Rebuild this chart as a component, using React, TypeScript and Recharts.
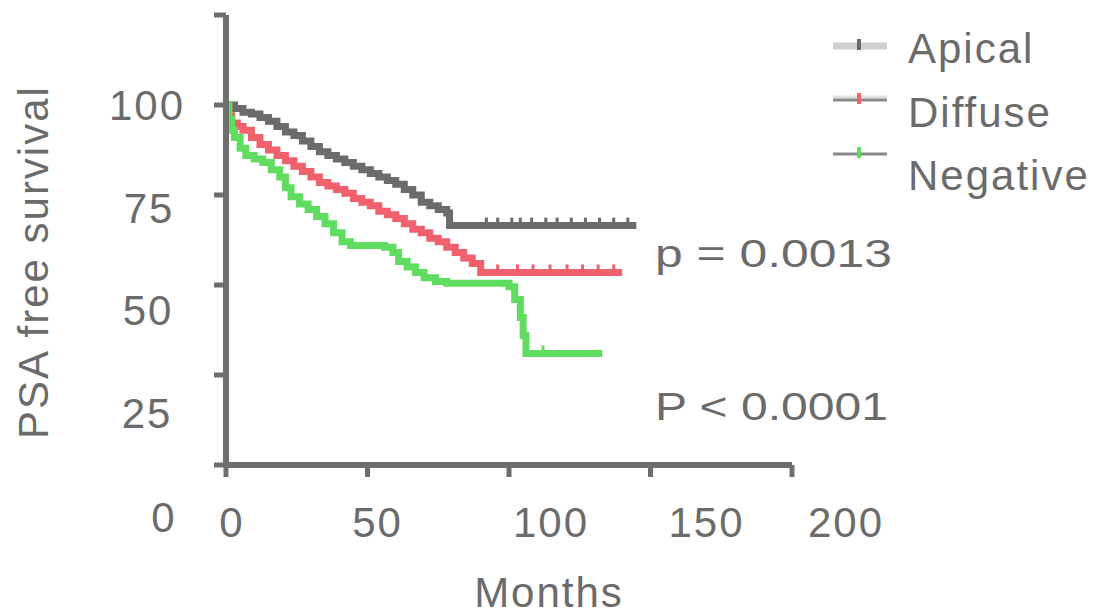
import React from 'react';
import { ComposedChart, Line, Scatter, XAxis, YAxis, Legend, Label, Customized } from 'recharts';

const FONT = '"Liberation Sans", Arial, Helvetica, sans-serif';
const TEXT = '#6b6b6b';
const AXIS = '#6e6e6e';

const xTicks = [0, 50, 100, 150, 200];
const yTicks = [0, 25, 50, 75, 100, 125];

// Kaplan-Meier steps (months, % PSA free)
const apicalMonths = [0, 3, 6, 9, 12, 15, 18, 21, 24, 27, 30, 33, 36, 39, 42, 45, 48, 51, 54, 57, 60, 63, 66, 69, 72, 75, 78, 79, 145];
const apicalSurvival = [100, 99, 98, 97.5, 96.5, 95.5, 94, 92.5, 91.5, 90, 88.5, 87, 86, 85, 84, 83, 82, 81, 80, 79, 78, 76.5, 75, 73, 72, 71, 70, 66.5, 66.5];
const apicalCensorMonths = [92, 96, 101, 104, 108, 113, 117, 122, 127, 132, 137, 142];

const diffuseMonths = [0, 1, 2, 4, 6, 9, 12, 15, 18, 21, 24, 27, 30, 33, 36, 39, 42, 45, 48, 51, 54, 57, 60, 63, 66, 69, 72, 75, 78, 81, 84, 87, 90, 140];
const diffuseSurvival = [100, 97, 95, 94, 93, 91, 89, 87.5, 86, 84.5, 83, 81.5, 80, 78.5, 77.5, 76.5, 75.5, 74, 73, 72, 70.5, 69.5, 68.5, 67, 65.5, 64.5, 63, 62, 60.5, 59, 57.5, 56, 53.5, 53.5];
const diffuseCensorMonths = [96, 103, 108.5, 114.5, 120.5, 126, 131.5, 137];

const negativeMonths = [0, 1, 2, 3, 5, 7, 10, 13, 16, 19, 21, 23, 26, 29, 32, 35, 38, 41, 44, 56, 59, 61, 64, 67, 70, 74, 78, 100, 102, 104, 105, 106, 133];
const negativeSurvival = [100, 96, 93, 91, 88, 86, 85, 84, 82, 80, 77, 74.5, 72.5, 71, 69, 67, 64.5, 62, 61, 60.5, 59, 56.5, 55, 53.5, 52, 51, 50.5, 49.5, 46, 41, 36, 31, 31];
const negativeCensorMonths = [112];

const seriesNames = ['Apical', 'Diffuse', 'Negative'];
const seriesColors = ['#6b6b6b', '#f0616d', '#60dc60'];

const toPoints = (months: number[], surv: number[]) => months.map((m, i) => ({ m, v: surv[i] }));

const survivalAt = (months: number[], surv: number[], t: number) => {
  let v = surv[0];
  months.forEach((m, i) => {
    if (m <= t) v = surv[i];
  });
  return v;
};

const censored = (months: number[], surv: number[], marks: number[]) =>
  marks.map((m) => ({ m, v: survivalAt(months, surv, m) }));

const curves = [
  { name: seriesNames[0], color: seriesColors[0], data: toPoints(apicalMonths, apicalSurvival), marks: censored(apicalMonths, apicalSurvival, apicalCensorMonths) },
  { name: seriesNames[1], color: seriesColors[1], data: toPoints(diffuseMonths, diffuseSurvival), marks: censored(diffuseMonths, diffuseSurvival, diffuseCensorMonths) },
  { name: seriesNames[2], color: seriesColors[2], data: toPoints(negativeMonths, negativeSurvival), marks: censored(negativeMonths, negativeSurvival, negativeCensorMonths) },
];

// the tick labels in the source figure drift away from their ticks
const yLabelPlace: Record<number, { x: number; dy: number }> = {
  100: { x: 147, dy: 15 },
  75: { x: 149, dy: 28 },
  50: { x: 148, dy: 40 },
  25: { x: 147, dy: 53 },
  0: { x: 164, dy: 67 },
};
const xLabelShift: Record<number, number> = { 0: 6, 50: 10, 100: 42, 150: 56, 200: 54 };

const textStyle = { letterSpacing: 2 };

const YTick = (props: any) => {
  const place = yLabelPlace[props.payload.value];
  if (!place) return <g />;
  return (
    <text x={place.x} y={props.y + place.dy} textAnchor="middle" fill={TEXT} fontSize={42} fontFamily={FONT} style={textStyle}>
      {props.payload.value}
    </text>
  );
};

const XTick = (props: any) => (
  <text x={props.x + (xLabelShift[props.payload.value] || 0)} y={537} textAnchor="middle" fill={TEXT} fontSize={42} fontFamily={FONT} style={textStyle}>
    {props.payload.value}
  </text>
);

const legendLineY = [46, 100, 154];
const legendTextY = [63, 127, 190];
const legendLineColors = ['#d0d0d0', '#8a8a8a', '#8a8a8a'];
const legendLineWidths = [7, 3, 3];

const renderLegend = (props: any) => {
  // only the survival curves, not the censor-mark scatters
  const items = seriesNames
    .map((name) => (props.payload || []).find((e: any) => e.value === name && e.type !== 'none'))
    .filter(Boolean);
  return (
    <svg width={1100} height={616} style={{ position: 'absolute', left: 0, top: 0 }}>
      {items.map((entry: any, i: number) => (
        <g key={entry.value}>
          {i === 1 && <line x1={833} x2={887} y1={legendLineY[i] - 3} y2={legendLineY[i] - 3} stroke="#e2e2e2" strokeWidth={3} />}
          <line x1={833} x2={887} y1={legendLineY[i]} y2={legendLineY[i]} stroke={legendLineColors[i]} strokeWidth={legendLineWidths[i]} />
          <rect x={857} y={legendLineY[i] - 7} width={4} height={11} fill={entry.color} />
          <text x={908} y={legendTextY[i]} fill={TEXT} fontSize={42} fontFamily={FONT} style={textStyle}>
            {entry.value}
          </text>
        </g>
      ))}
    </svg>
  );
};

const censorShape = (color: string) => (p: any) => (
  <rect x={p.cx - 1.5} y={p.cy - 8} width={3} height={6} fill={color} />
);

const PValues = () => (
  <g fontFamily={FONT} fill={TEXT} fontSize={38}>
    <text x={655} y={267} textLength={237} lengthAdjust="spacingAndGlyphs">p = 0.0013</text>
    <text x={655} y={420} textLength={233} lengthAdjust="spacingAndGlyphs">P &lt; 0.0001</text>
  </g>
);

const MonthsTitle = () => (
  <text x={549} y={607} textAnchor="middle" fill={TEXT} fontSize={42} fontFamily={FONT} style={textStyle}>
    Months
  </text>
);

const SurvivalTitle = () => (
  <text x={48} y={262} transform="rotate(-90, 48, 262)" textAnchor="middle" fill={TEXT} fontSize={42} fontFamily={FONT} style={textStyle}>
    PSA free survival
  </text>
);

const App: React.FC = () => {
  return (
    <div style={{ position: 'absolute', left: 0, top: 0, background: '#fff' }}>
      <ComposedChart width={1100} height={616} margin={{ top: 15, right: 308, bottom: 0, left: 0 }}>
        <XAxis
          type="number"
          dataKey="m"
          domain={[0, 200]}
          ticks={xTicks}
          interval={0}
          height={151}
          axisLine={{ stroke: AXIS, strokeWidth: 6 }}
          tickLine={{ stroke: AXIS, strokeWidth: 5 }}
          tickSize={12}
          tick={<XTick />}
        >
          <Label content={<MonthsTitle />} />
        </XAxis>
        <YAxis
          type="number"
          dataKey="v"
          domain={[0, 125]}
          ticks={yTicks}
          interval={0}
          width={226}
          axisLine={{ stroke: AXIS, strokeWidth: 6 }}
          tickLine={{ stroke: AXIS, strokeWidth: 5 }}
          tickSize={12}
          tick={<YTick />}
        >
          <Label content={<SurvivalTitle />} />
        </YAxis>
        {curves.map((c) => (
          <Line
            key={c.name}
            name={c.name}
            data={c.data}
            dataKey="v"
            type="stepAfter"
            stroke={c.color}
            strokeWidth={7}
            dot={false}
            activeDot={false}
            isAnimationActive={false}
          />
        ))}
        {curves.map((c) => (
          <Scatter
            key={c.name + '-censored'}
            name={c.name + ' censored'}
            data={c.marks}
            dataKey="v"
            fill={c.color}
            shape={censorShape(c.color)}
            legendType="none"
            isAnimationActive={false}
          />
        ))}
        <Customized component={PValues} />
        <Legend
          content={renderLegend}
          layout="horizontal"
          align="center"
          verticalAlign="middle"
          wrapperStyle={{ position: 'absolute', left: 0, top: 0, width: 1100, height: 616, margin: 0, padding: 0 }}
        />
      </ComposedChart>
    </div>
  );
};

export default App;
